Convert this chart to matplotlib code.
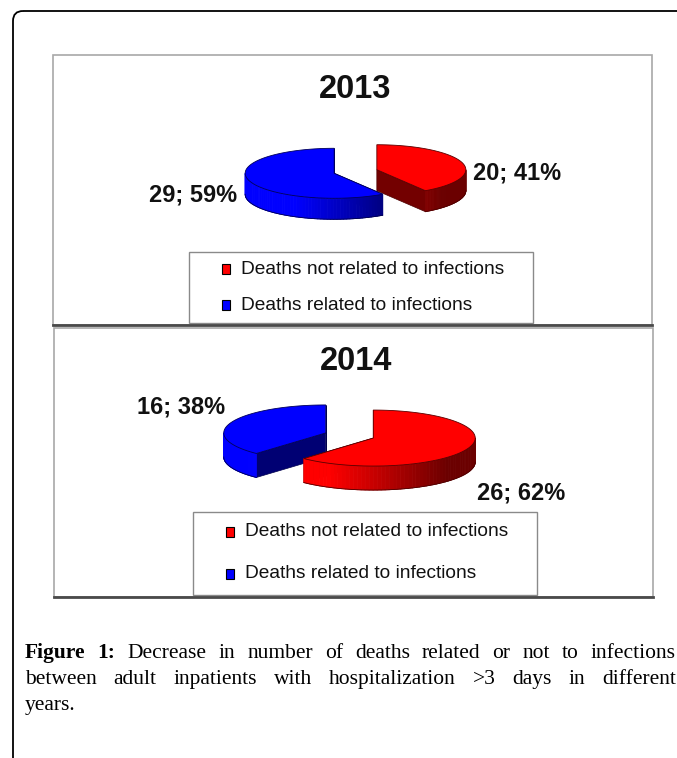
import numpy as np
import matplotlib
matplotlib.use("Agg")
import matplotlib.pyplot as plt
from matplotlib.patches import Polygon, Rectangle, FancyBboxPatch
from matplotlib.collections import PolyCollection
from matplotlib.colors import to_rgb

# data
years = ["2013", "2014"]
categories = ["Deaths not related to infections", "Deaths related to infections"]
not_related = [20, 26]
related = [29, 16]
colors = ["#ff0000", "#0000ff"]

caption_lines = [
    "Figure 1: Decrease in number of deaths related or not to infections",
    "between adult inpatients with hospitalization >3 days in different",
    "years.",
]
n_bold = 2  # "Figure 1:" is bold

# layout, in pixels of the 677x758 picture (y down)
panels = [
    dict(box=(53, 55, 599, 270), title_y=90, center=(355.5, 171.5), rx=89, ry=25, h=21,
         legend=(189, 252, 344, 71), rows=(269, 305), label_off=[(10.5, 0), (-11.5, 4.5)]),
    dict(box=(54, 328, 599, 269), title_y=361, center=(349.5, 435.5), rx=102, ry=28, h=24,
         legend=(193, 512, 344, 83), rows=(532, 574), label_off=[(9, 32.5), (-6, -27.5)]),
]
explode = 0.25
sans = "Liberation Sans"
serif = "Liberation Serif"


def rim(c, rx, ry, t):
    return c[0] + rx * np.sin(t), c[1] - ry * np.cos(t)


def shade(col, f):
    r, g, b = to_rgb(col)
    return (r * f, g * f, b * f)


def pie3d(ax, vals, cols, center, rx, ry, h, label_off):
    tot = float(sum(vals))
    bounds = np.concatenate([[0], np.cumsum(vals)]) / tot * 2 * np.pi
    wedges = []
    for i, v in enumerate(vals):
        t1, t2 = bounds[i], bounds[i + 1]
        mid = (t1 + t2) / 2
        c = (center[0] + explode * rx * np.sin(mid), center[1] - explode * ry * np.cos(mid))
        wedges.append((c[1], i, t1, t2, mid, c))
    # back to front
    for _, i, t1, t2, mid, c in sorted(wedges):
        col = cols[i]
        # cut faces
        for t in (t1, t2):
            x, y = rim(c, rx, ry, t)
            ax.add_patch(Polygon([c, (x, y), (x, y + h), (c[0], c[1] + h)], closed=True,
                                 facecolor=shade(col, 0.45), edgecolor=shade(col, 0.3), lw=0.5))
        # outer wall, the part facing us
        a0, a1 = max(t1, np.pi / 2), min(t2, 3 * np.pi / 2)
        if a1 > a0:
            ts = np.linspace(a0, a1, 60)
            quads, fc = [], []
            for ta, tb in zip(ts[:-1], ts[1:]):
                xa, ya = rim(c, rx, ry, ta)
                xb, yb = rim(c, rx, ry, tb)
                quads.append([(xa, ya), (xb, yb), (xb, yb + h), (xa, ya + h)])
                f = np.clip(0.78 - 0.5 * np.sin((ta + tb) / 2), 0.42, 1.0)
                fc.append(shade(col, f))
            ax.add_collection(PolyCollection(quads, facecolors=fc, edgecolors=fc, linewidths=0.6))
            xs, ys = rim(c, rx, ry, ts)
            ax.plot(xs, ys + h, color=shade(col, 0.3), lw=0.6)
        # top face
        ts = np.linspace(t1, t2, 120)
        xs, ys = rim(c, rx, ry, ts)
        pts = [c] + list(zip(xs, ys))
        ax.add_patch(Polygon(pts, closed=True, facecolor=col, edgecolor=shade(col, 0.35), lw=0.6))
        # data label
        pct = round(100 * vals[i] / tot)
        x, y = rim(c, rx, ry, mid)
        dx, dy = label_off[i]
        ax.text(x + dx, y + h / 2 + dy, f"{vals[i]}; {pct}%", family=sans, fontweight="bold",
                fontsize=17, color="#111111", va="center", ha="left" if dx > 0 else "right")


fig = plt.figure(figsize=(6.77, 7.58), dpi=100)
ax = fig.add_axes([0, 0, 1, 1])
ax.set_xlim(0, 677)
ax.set_ylim(758, 0)
ax.axis("off")

# outer frame of the figure block
ax.add_patch(FancyBboxPatch((13, 11), 760, 820, boxstyle="round,pad=0,rounding_size=10",
                            facecolor="none", edgecolor="black", lw=1.3))

for k, p in enumerate(panels):
    bx, by, bw, bh = p["box"]
    ax.add_patch(Rectangle((bx, by), bw, bh, facecolor="white", edgecolor="#a8a8a8", lw=1.2))
    ax.plot([bx, bx + bw], [by + bh, by + bh], color="#4a4a4a", lw=2)
    ax.text(bx + bw / 2 + 3, p["title_y"], years[k], family=sans, fontweight="bold",
            fontsize=23.5, ha="center", va="center", color="#111111")
    pie3d(ax, [not_related[k], related[k]], colors, p["center"], p["rx"], p["ry"], p["h"],
          p["label_off"])
    lx, ly, lw_, lh = p["legend"]
    ax.add_patch(Rectangle((lx, ly), lw_, lh, facecolor="white", edgecolor="#8a8a8a", lw=1.0))
    for j, name in enumerate(categories):
        ry_ = p["rows"][j]
        ax.add_patch(Rectangle((lx + 33, ry_ - 5), 8, 10, facecolor=colors[j],
                               edgecolor="black", lw=0.8))
        ax.text(lx + 52, ry_, name, family=sans, fontsize=13.8, va="center", ha="left",
                color="#111111")

# caption, justified like the journal layout
renderer = fig.canvas.get_renderer()
x0, x1 = 25, 676
base_y = [658, 684, 710]
for li, line in enumerate(caption_lines):
    words = line.split()
    objs = []
    for wi, w in enumerate(words):
        bold = li == 0 and wi < n_bold
        objs.append(ax.text(0, base_y[li], w, family=serif, fontsize=15.5, va="baseline",
                            ha="left", fontweight="bold" if bold else "normal", color="black"))
    widths = [t.get_window_extent(renderer).width for t in objs]
    if li < len(caption_lines) - 1 and len(objs) > 1:
        gap = max(3, (x1 - x0 - sum(widths)) / (len(objs) - 1))
    else:
        gap = 5
    x = x0
    for t, wd in zip(objs, widths):
        t.set_x(x)
        x += wd + gap

fig.savefig("out.png", dpi=100)
